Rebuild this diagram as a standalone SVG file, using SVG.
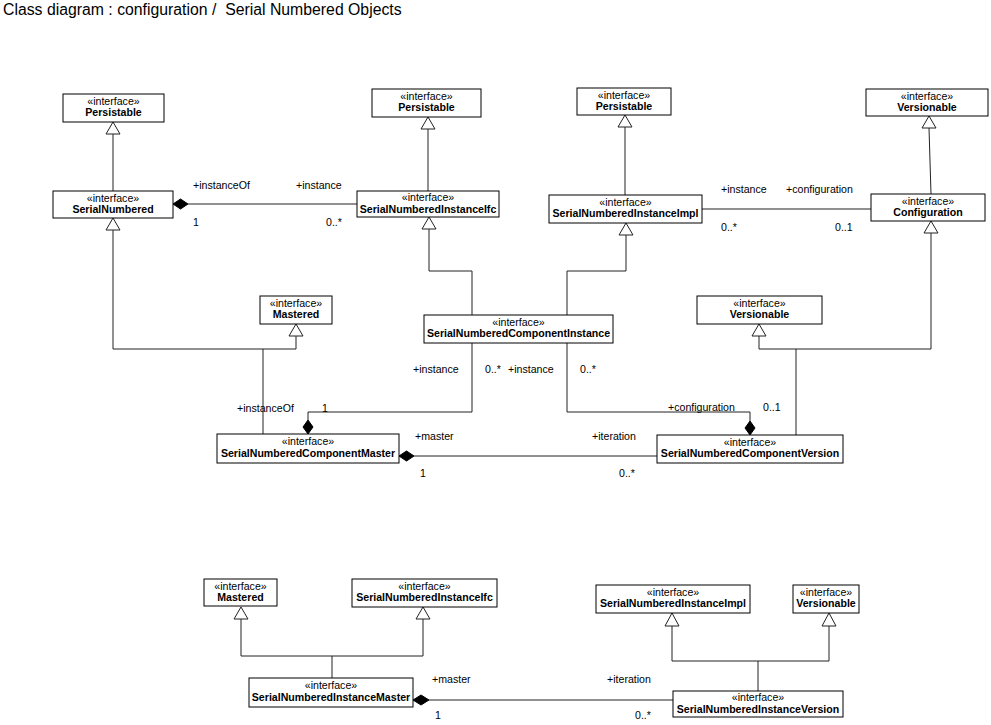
<svg xmlns="http://www.w3.org/2000/svg" width="991" height="725" viewBox="0 0 991 725">
<defs>
<style>
text{font-family:"Liberation Sans",Arial,sans-serif;font-size:10.6px;fill:#000}
.title{font-size:15.8px;white-space:pre}
.st{text-anchor:middle}
.nm{text-anchor:middle;font-weight:bold}
.box{fill:#fff;stroke:#000;stroke-width:1}
.ln{fill:none;stroke:#222;stroke-width:1}
.tri{fill:#fff;stroke:#222;stroke-width:1}
.dia{fill:#000;stroke:#000;stroke-width:1}
</style>
</defs>
<rect width="991" height="725" fill="#fff"/>
<text class="title" x="3" y="14.5" xml:space="preserve">Class diagram : configuration /  Serial Numbered Objects</text>

<g id="connectors">
<!-- generalizations -->
<path class="ln" d="M113 134V191"/>
<polygon class="tri" points="113,122 106,134 120,134"/>
<path class="ln" d="M428 129V191"/>
<polygon class="tri" points="428,117 421,129 435,129"/>
<path class="ln" d="M625 127V195"/>
<polygon class="tri" points="625,115 618,127 632,127"/>
<path class="ln" d="M929 128L931 194"/>
<polygon class="tri" points="929,116 922,128 936,128"/>

<path class="ln" d="M429 229V271H472V315"/>
<polygon class="tri" points="429,217 422,229 436,229"/>
<path class="ln" d="M626 235V271H567V315"/>
<polygon class="tri" points="626,223 619,235 633,235"/>

<path class="ln" d="M113 230V349H296V336M263 349V434"/>
<polygon class="tri" points="113,218 106,230 120,230"/>
<polygon class="tri" points="296,324 289,336 303,336"/>

<path class="ln" d="M931 233V349H759V336M796 349V435"/>
<polygon class="tri" points="931,221 924,233 938,233"/>
<polygon class="tri" points="759,324 752,336 766,336"/>

<path class="ln" d="M241 619V656H423V619M332 656V678"/>
<polygon class="tri" points="241,607 234,619 248,619"/>
<polygon class="tri" points="423,607 416,619 430,619"/>

<path class="ln" d="M672 626V661H829V626M758 661V691"/>
<polygon class="tri" points="672,613 665,626 679,626"/>
<polygon class="tri" points="829,613 822,626 836,626"/>

<!-- associations -->
<path class="ln" d="M188 204H357"/>
<polygon class="dia" points="173,204 180.5,199 188,204 180.5,209"/>
<path class="ln" d="M702 209H871"/>

<path class="ln" d="M472 343V412H308V420"/>
<polygon class="dia" points="308,420 313,427 308,434 303,427"/>
<path class="ln" d="M567 343V412H750V421"/>
<polygon class="dia" points="750,421 755,428 750,435 745,428"/>

<path class="ln" d="M414 456H657"/>
<polygon class="dia" points="399,456 406.5,451 414,456 406.5,461"/>
<path class="ln" d="M429 700H673"/>
<polygon class="dia" points="413,700 421,695 429,700 421,705"/>

<!-- role / multiplicity labels -->
<text x="193" y="189">+instanceOf</text>
<text x="296" y="189">+instance</text>
<text x="193" y="226">1</text>
<text x="326" y="226">0..*</text>
<text x="721" y="193">+instance</text>
<text x="786" y="193">+configuration</text>
<text x="721" y="231">0..*</text>
<text x="835" y="231">0..1</text>
<text x="413" y="373">+instance</text>
<text x="485" y="373">0..*</text>
<text x="508" y="373">+instance</text>
<text x="580" y="373">0..*</text>
<text x="237" y="412">+instanceOf</text>
<text x="322" y="412">1</text>
<text x="668" y="411">+configuration</text>
<text x="763" y="411">0..1</text>
<text x="415" y="440">+master</text>
<text x="592" y="440">+iteration</text>
<text x="420" y="477">1</text>
<text x="619" y="477">0..*</text>
<text x="432" y="683">+master</text>
<text x="435" y="719">1</text>
<text x="607" y="683">+iteration</text>
<text x="635" y="719">0..*</text>
</g>

<g id="persistable1"><rect class="box" x="63" y="94" width="101" height="28"/><text class="st" x="113.5" y="104.5">«interface»</text><text class="nm" x="113.5" y="116">Persistable</text></g>
<g id="serialNumbered"><rect class="box" x="53" y="191" width="120" height="27"/><text class="st" x="113" y="201.5">«interface»</text><text class="nm" x="113" y="213">SerialNumbered</text></g>
<g id="persistable2"><rect class="box" x="372" y="89" width="109" height="28"/><text class="st" x="426.5" y="99.5">«interface»</text><text class="nm" x="426.5" y="111">Persistable</text></g>
<g id="snInstanceIfc"><rect class="box" x="357" y="191" width="142" height="26"/><text class="st" x="428" y="201">«interface»</text><text class="nm" x="428" y="212.5">SerialNumberedInstanceIfc</text></g>
<g id="persistable3"><rect class="box" x="577" y="88" width="94" height="27"/><text class="st" x="624" y="98.5">«interface»</text><text class="nm" x="624" y="110">Persistable</text></g>
<g id="snInstanceImpl"><rect class="box" x="549" y="195" width="153" height="28"/><text class="st" x="625.5" y="205.5">«interface»</text><text class="nm" x="625.5" y="217">SerialNumberedInstanceImpl</text></g>
<g id="versionable1"><rect class="box" x="866" y="89" width="122" height="27"/><text class="st" x="927" y="99.5">«interface»</text><text class="nm" x="927" y="111">Versionable</text></g>
<g id="configuration"><rect class="box" x="871" y="194" width="114" height="27"/><text class="st" x="928" y="204.5">«interface»</text><text class="nm" x="928" y="216">Configuration</text></g>
<g id="mastered1"><rect class="box" x="260" y="296" width="72" height="28"/><text class="st" x="296" y="306.5">«interface»</text><text class="nm" x="296" y="318">Mastered</text></g>
<g id="snComponentInstance"><rect class="box" x="424" y="315" width="189" height="28"/><text class="st" x="518.5" y="325.5">«interface»</text><text class="nm" x="518.5" y="337">SerialNumberedComponentInstance</text></g>
<g id="versionable2"><rect class="box" x="697" y="296" width="125" height="28"/><text class="st" x="759.5" y="306.5">«interface»</text><text class="nm" x="759.5" y="318">Versionable</text></g>
<g id="snComponentMaster"><rect class="box" x="217" y="434" width="182" height="29"/><text class="st" x="308" y="444.5">«interface»</text><text class="nm" x="308" y="456.5">SerialNumberedComponentMaster</text></g>
<g id="snComponentVersion"><rect class="box" x="657" y="435" width="186" height="28"/><text class="st" x="750" y="445.5">«interface»</text><text class="nm" x="750" y="457">SerialNumberedComponentVersion</text></g>
<g id="mastered2"><rect class="box" x="204" y="579" width="73" height="27"/><text class="st" x="240.5" y="589.5">«interface»</text><text class="nm" x="240.5" y="601">Mastered</text></g>
<g id="snInstanceIfc2"><rect class="box" x="352" y="579" width="145" height="28"/><text class="st" x="424.5" y="589.5">«interface»</text><text class="nm" x="424.5" y="601">SerialNumberedInstanceIfc</text></g>
<g id="snInstanceMaster"><rect class="box" x="249" y="678" width="164" height="29"/><text class="st" x="331" y="688.5">«interface»</text><text class="nm" x="331" y="700.5">SerialNumberedInstanceMaster</text></g>
<g id="snInstanceImpl2"><rect class="box" x="596" y="585" width="154" height="28"/><text class="st" x="673" y="595.5">«interface»</text><text class="nm" x="673" y="607">SerialNumberedInstanceImpl</text></g>
<g id="versionable3"><rect class="box" x="793" y="585" width="66" height="28"/><text class="st" x="826" y="595.5">«interface»</text><text class="nm" x="826" y="607">Versionable</text></g>
<g id="snInstanceVersion"><rect class="box" x="673" y="691" width="170" height="26"/><text class="st" x="758" y="701">«interface»</text><text class="nm" x="758" y="712.5">SerialNumberedInstanceVersion</text></g>
</svg>
